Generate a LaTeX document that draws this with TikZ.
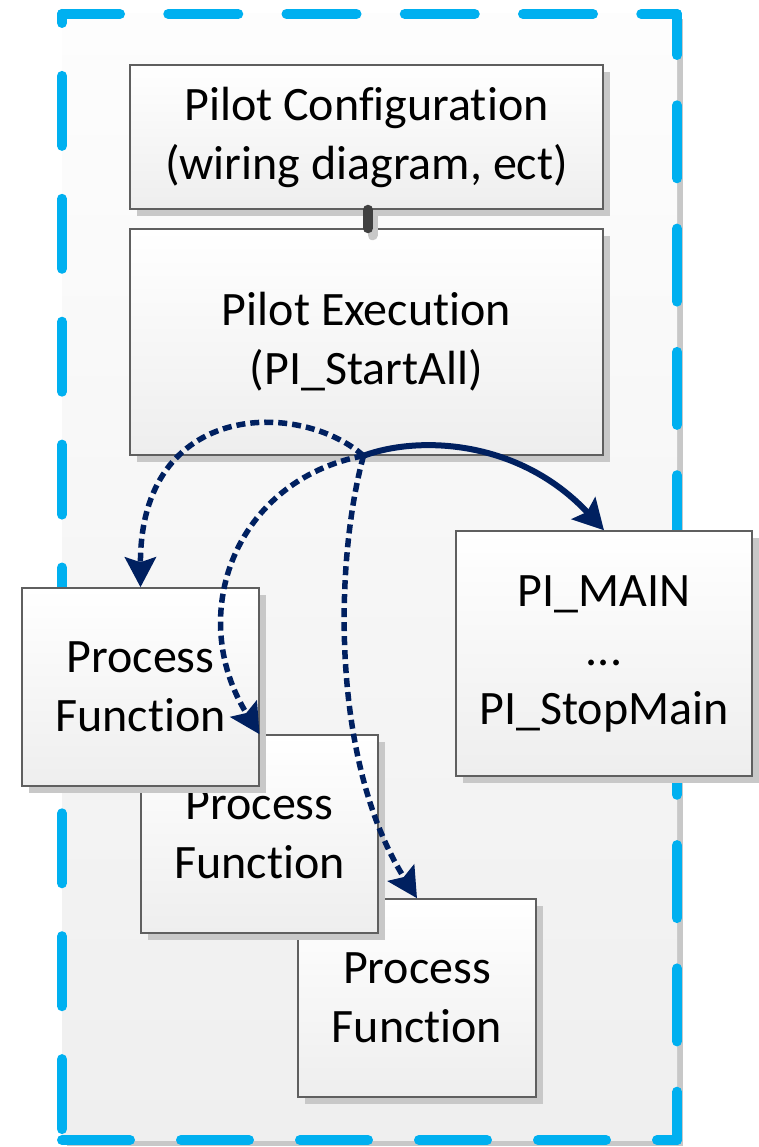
\documentclass[tikz,border=0pt]{standalone}
\usepackage{fontspec}
\setmainfont{Carlito}[Ligatures=NoCommon]
\usetikzlibrary{shadows,arrows.meta}
\definecolor{borderblue}{HTML}{00B0F0}
\definecolor{navy}{HTML}{002060}
\definecolor{shadowgray}{HTML}{C8C8C8}
\definecolor{boxbot}{HTML}{EEEEEE}
\definecolor{boxline}{HTML}{5F5F5F}
\definecolor{bgtop}{HTML}{FDFDFD}
\definecolor{bgbot}{HTML}{EFEFEF}
\definecolor{bargray}{HTML}{404040}
\begin{document}
\begin{tikzpicture}[x=1pt,y=-1pt,
  box/.style={draw=boxline, line width=1.5pt, top color=white, bottom color=boxbot,
    drop shadow={shadow xshift=7pt, shadow yshift=-7pt, fill=shadowgray, opacity=1},
    align=center, inner sep=0pt, font=\fontsize{48}{59}\selectfont},
  blueline/.style={line width=10pt, draw=borderblue, line cap=round},
  barline/.style={line width=10pt, draw=bargray, line cap=round},
  barshadow/.style={line width=10pt, draw=shadowgray, line cap=round},
  solidarrow/.style={draw=navy, line width=6pt, -{Stealth[length=30pt,width=32pt,inset=5pt,fill=navy]}},
  dotarrow/.style={draw=navy, line width=5.5pt, dash pattern=on 9pt off 5pt, -{Stealth[length=30pt,width=31pt,inset=5pt,fill=navy]}},
]
\useasboundingbox (0,0) rectangle (759,1147);
\fill[white] (0,0) rectangle (759,1147);
% container
\fill[shadowgray] (67,19) rectangle (683,1146);
\shade[top color=bgtop, bottom color=bgbot] (62,14) rectangle (677,1140);
\draw[blueline, dash pattern=on 70pt off 48.25pt, dash phase=12pt] (62,14) -- (677,14);
\draw[blueline, dash pattern=on 73pt off 50.3pt, dash phase=32pt] (677,14) -- (677,1140);
\draw[blueline, dash pattern=on 68pt off 51pt, dash phase=0pt] (62,1140) -- (677,1140);
\draw[blueline, dash pattern=on 70pt off 52.9pt, dash phase=61pt] (62,14) -- (62,1140);
% boxes
\node[box, minimum width=473pt, minimum height=144pt] (cfg) at (366.5,137) {Pilot Configuration\\(wiring diagram, ect)};
\node[box, minimum width=473pt, minimum height=226pt] (exe) at (366.5,342) {Pilot Execution\\(PI\_StartAll)};
\node[box, minimum width=296pt, minimum height=245pt] (main) at (604,653.5) {PI\_MAIN\\...\\PI\_StopMain};
\node[box, minimum width=238pt, minimum height=198pt] (pf3) at (417,998) {Process\\Function};
\node[box, minimum width=237pt, minimum height=198pt] (pf2) at (259.5,834) {Process\\Function};
\node[box, minimum width=237pt, minimum height=198pt] (pf1) at (140.5,687) {Process\\Function};
% connector bar
\draw[barshadow] ([xshift=6pt,yshift=-7pt]cfg.south) -- ([xshift=6pt,yshift=-7pt]exe.north);
\draw[barline] ([xshift=1.5pt]cfg.south) -- ([xshift=1.5pt]exe.north);
% arrows
\coordinate (s) at ([xshift=-3pt]exe.south);
\draw[dotarrow] (s) .. controls (300,400) and (140,400) .. (pf1.north);
\draw[dotarrow] (s) .. controls (235,480) and (185,615) .. (pf2.north);
\draw[dotarrow] (s) .. controls (335,560) and (330,760) .. (pf3.north);
\draw[solidarrow] (s) .. controls (420,435) and (520,440) .. (main.north);
\end{tikzpicture}
\end{document}
